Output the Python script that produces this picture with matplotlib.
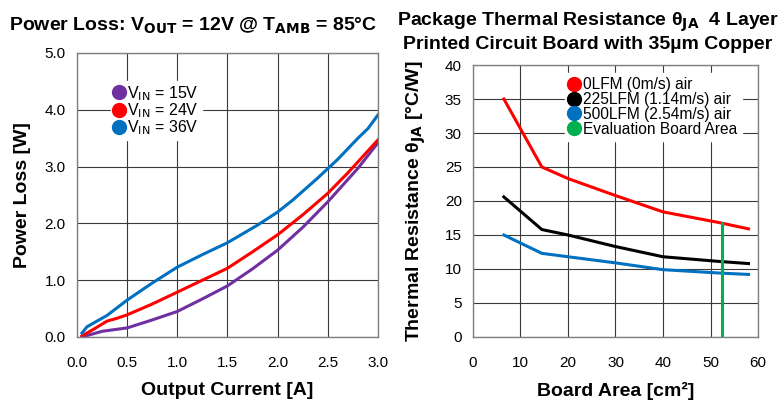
import matplotlib.pyplot as plt
from matplotlib.lines import Line2D

plt.rcParams['font.family'] = ['Liberation Sans', 'DejaVu Sans']

# Power loss curves (left)
i_15 = [0.05, 0.25, 0.5, 0.75, 1.0, 1.25, 1.5, 1.75, 2.0, 2.25, 2.5, 2.8, 3.0]
p_15 = [0.0, 0.1, 0.16, 0.3, 0.45, 0.67, 0.9, 1.2, 1.53, 1.93, 2.38, 2.97, 3.42]
i_24 = [0.05, 0.15, 0.3, 0.4, 0.5, 0.75, 1.0, 1.25, 1.5, 1.75, 2.0, 2.25, 2.5, 2.7, 3.0]
p_24 = [0.02, 0.12, 0.28, 0.33, 0.39, 0.58, 0.79, 1.0, 1.21, 1.5, 1.8, 2.15, 2.53, 2.89, 3.47]
i_36 = [0.05, 0.1, 0.2, 0.3, 0.5, 0.75, 1.0, 1.25, 1.5, 1.8, 2.0, 2.15, 2.4, 2.6, 2.8, 2.9, 3.0]
p_36 = [0.07, 0.18, 0.28, 0.38, 0.65, 0.95, 1.23, 1.45, 1.66, 1.97, 2.2, 2.41, 2.8, 3.13, 3.5, 3.67, 3.91]

# Thermal resistance (right)
area = [6.5, 14.5, 20, 30, 40, 52, 58]
th_0lfm = [35, 25, 23.3, 20.8, 18.4, 16.8, 15.9]
th_225lfm = [20.6, 15.8, 15.0, 13.3, 11.8, 11.1, 10.8]
th_500lfm = [15.0, 12.3, 11.8, 10.9, 9.9, 9.4, 9.2]
eval_area = 52.4

PURPLE = '#7030a0'
RED = '#ff0000'
BLUE = '#0070c0'
GREEN = '#00b050'
GRID = '#3a3a3a'

fig = plt.figure(figsize=(7.8, 4.03), dpi=100)
ax1 = fig.add_axes([0.0987, 0.1638, 0.3859, 0.7047])
ax2 = fig.add_axes([0.6064, 0.1638, 0.3654, 0.6749])

ax1.plot(i_15, p_15, color=PURPLE, lw=2.2)
ax1.plot(i_24, p_24, color=RED, lw=2.2)
ax1.plot(i_36, p_36, color=BLUE, lw=2.2)
ax1.set_xlim(0, 3.0)
ax1.set_ylim(0, 5.0)
ax1.set_xticks([0, 0.5, 1.0, 1.5, 2.0, 2.5, 3.0])
ax1.set_yticks([0, 1, 2, 3, 4, 5])
ax1.set_xticklabels(['0.0', '0.5', '1.0', '1.5', '2.0', '2.5', '3.0'])
ax1.set_yticklabels(['0.0', '1.0', '2.0', '3.0', '4.0', '5.0'])
ax1.set_xlabel('Output Current [A]', fontsize=14, fontweight='bold', labelpad=8)
ax1.set_ylabel('Power Loss [W]', fontsize=14, fontweight='bold', labelpad=10)
fig.text(0.248, 0.925, r'Power Loss: V$_{\mathbf{OUT}}$ = 12V @ T$_{\mathbf{AMB}}$ = 85°C',
         fontsize=14, fontweight='bold', ha='center', va='baseline')
h1 = [Line2D([], [], ls='none', marker='o', ms=10, color=c) for c in (PURPLE, RED, BLUE)]
ax1.legend(h1, [r'V$_{\mathrm{IN}}$ = 15V', r'V$_{\mathrm{IN}}$ = 24V', r'V$_{\mathrm{IN}}$ = 36V'],
           loc='upper left', bbox_to_anchor=(0.085, 0.93), frameon=True, fancybox=False,
           edgecolor='white', framealpha=1, fontsize=11.5, handlelength=0.6,
           handletextpad=0.25, labelspacing=-0.1, borderpad=0.2)

ax2.plot(area, th_0lfm, color=RED, lw=2.2)
ax2.plot(area, th_225lfm, color='black', lw=2.2)
ax2.plot(area, th_500lfm, color=BLUE, lw=2.2)
ax2.plot([eval_area, eval_area], [0, th_0lfm[5]], color=GREEN, lw=2.2)
ax2.set_xlim(0, 60)
ax2.set_ylim(0, 40)
ax2.set_xticks(range(0, 61, 10))
ax2.set_yticks(range(0, 41, 5))
ax2.set_xlabel('Board Area [cm²]', fontsize=14, fontweight='bold', labelpad=8)
ax2.set_ylabel(r'Thermal Resistance θ$_{\mathbf{JA}}$ [°C/W]', fontsize=14,
               fontweight='bold', labelpad=12)
fig.text(0.754, 0.935, 'Package Thermal Resistance θ$_{\\mathbf{JA}}$  4 Layer',
         fontsize=14, fontweight='bold', ha='center', va='baseline')
fig.text(0.754, 0.878, 'Printed Circuit Board with 35µm Copper',
         fontsize=14, fontweight='bold', ha='center', va='baseline')
h2 = [Line2D([], [], ls='none', marker='o', ms=10, color=c) for c in (RED, 'black', BLUE, GREEN)]
ax2.legend(h2, ['0LFM (0m/s) air', '225LFM (1.14m/s) air', '500LFM (2.54m/s) air',
                'Evaluation Board Area'],
           loc='upper left', bbox_to_anchor=(0.295, 1.0), frameon=True, fancybox=False,
           edgecolor='white', framealpha=1, fontsize=11.2, handlelength=0.6,
           handletextpad=0.25, labelspacing=-0.02, borderpad=0.3)

for ax in (ax1, ax2):
    ax.grid(True, color=GRID, lw=0.8)
    ax.set_axisbelow(True)
    ax.tick_params(length=0, labelsize=11)
    ax.tick_params(axis='x', pad=14)
    ax.tick_params(axis='y', pad=8)
    for s in ax.spines.values():
        s.set_color('#808080')
        s.set_linewidth(1.0)

fig.savefig('out.png', dpi=100)
